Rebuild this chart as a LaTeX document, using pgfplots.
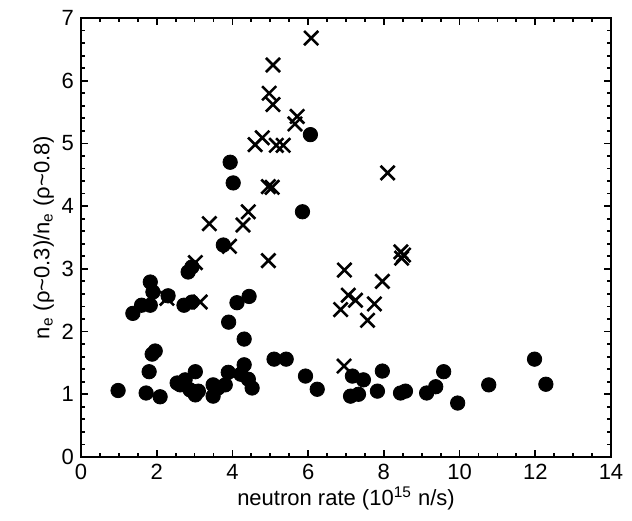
\documentclass[border=0pt]{standalone}
\usepackage{fontspec}
\setmainfont{Liberation Sans}
\usepackage{pgfplots}
\pgfplotsset{compat=1.18}
\begin{document}
\begin{tikzpicture}
\begin{axis}[
  scale only axis, width=265pt, height=219.5pt,
  xmin=0, xmax=14, ymin=0, ymax=7,
  xtick={0,2,...,14}, ytick={0,1,...,7},
  minor x tick num=3, minor y tick num=4,
  tick align=inside, tick pos=both,
  major tick length=3.5pt, minor tick length=2pt,
  every tick/.style={black, line width=0.9pt},
  axis line style={line width=1.3pt},
  /pgf/number format/assume math mode=true,
  tick label style={font=\fontsize{11}{13}\selectfont},
  label style={font=\fontsize{11}{13}\selectfont},
  xlabel={neutron rate (10\textsuperscript{15} n/s)},
  ylabel={n\textsubscript{e} (ρ\textasciitilde0.3)/n\textsubscript{e} (ρ\textasciitilde0.8)},
  xlabel style={yshift=3pt},
  ylabel style={yshift=-3pt},
  clip=false,
]
\addplot[only marks, mark=x, mark size=5pt, line width=1.3pt, black] coordinates {
(6.08,6.68)(5.07,6.25)(4.97,5.80)(5.07,5.62)(5.71,5.43)(5.65,5.31)(4.79,5.09)(4.60,4.98)
(5.16,4.97)(5.34,4.97)(4.95,4.31)(5.05,4.30)(4.42,3.91)(3.39,3.72)(4.28,3.70)(3.92,3.36)
(3.02,3.10)(4.95,3.13)(2.27,2.53)(3.15,2.47)(8.10,4.53)(8.45,3.27)(8.52,3.22)(8.47,3.17)
(6.96,2.98)(7.96,2.80)(7.06,2.58)(7.25,2.50)(6.86,2.35)(7.75,2.44)(7.57,2.18)(6.95,1.45)
};
\addplot[only marks, mark=*, mark size=3.6pt, black] coordinates {
(6.06,5.14)(3.94,4.70)(4.02,4.37)(5.85,3.91)(3.76,3.38)(2.83,2.95)(2.93,3.03)
(1.83,2.79)(1.90,2.63)(2.30,2.57)(1.37,2.29)(1.60,2.42)(1.83,2.42)(2.72,2.42)(2.93,2.47)
(4.12,2.46)(4.44,2.56)(3.90,2.15)(4.31,1.88)
(0.98,1.06)(1.72,1.02)(2.09,0.96)(1.80,1.36)(1.88,1.64)(1.96,1.69)(2.62,1.15)(2.75,1.23)
(3.02,1.36)(2.88,1.07)(3.02,0.99)(3.10,1.05)(2.54,1.18)(3.49,1.15)(3.49,0.97)(3.62,1.10)
(3.81,1.15)(3.89,1.35)(4.31,1.47)(4.22,1.32)(4.42,1.24)(4.52,1.10)(5.10,1.56)(5.42,1.56)
(5.93,1.29)(6.24,1.08)
(7.17,1.29)(7.46,1.23)(7.96,1.37)(7.12,0.97)(7.33,1.00)(7.83,1.05)(8.44,1.02)(8.57,1.05)
(9.13,1.02)(9.37,1.12)(9.58,1.36)(9.95,0.86)(10.77,1.15)(11.98,1.56)(12.28,1.16)
};
\end{axis}
\pgfresetboundingbox
\path (current axis.south west) ++(-40.5pt,-32pt) coordinate (bl);
\path (current axis.north east) ++(10.5pt,9pt) coordinate (tr);
\useasboundingbox (bl) rectangle (tr);
\end{tikzpicture}
\end{document}
